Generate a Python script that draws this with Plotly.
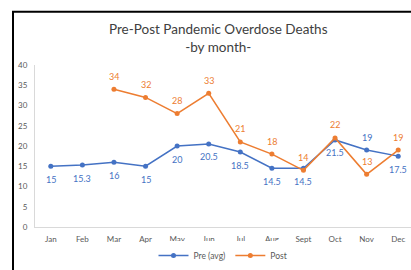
import plotly.graph_objects as go

months = ["Jan", "Feb", "Mar", "Apr", "May", "Jun", "Jul", "Aug", "Sept", "Oct", "Nov", "Dec"]
pre_avg = [15, 15.3, 16, 15, 20, 20.5, 18.5, 14.5, 14.5, 21.5, 19, 17.5]
post = [None, None, 34, 32, 28, 33, 21, 18, 14, 22, 13, 19]
pre_label_pos = ["below"] * 10 + ["above", "below"]

BLUE = "#4472C4"
ORANGE = "#ED7D31"
GRAY = "#595959"
FONT = "Lato, 'Open Sans', sans-serif"

xi = list(range(len(months)))

fig = go.Figure()
fig.add_trace(go.Scatter(x=xi, y=pre_avg, mode="lines+markers", name="Pre (avg)",
                         line=dict(color=BLUE, width=1.5), marker=dict(size=5, color=BLUE)))
fig.add_trace(go.Scatter(x=xi, y=post, mode="lines+markers", name="Post",
                         line=dict(color=ORANGE, width=1.5), marker=dict(size=5, color=ORANGE),
                         connectgaps=False))

ann = []
for i, (v, p) in enumerate(zip(pre_avg, pre_label_pos)):
    ann.append(dict(x=i, y=v, xref="x", yref="y", text=f"{v:g}", showarrow=False,
                    yshift=-13 if p == "below" else 13,
                    font=dict(size=9, color=BLUE, family=FONT)))
for i, v in enumerate(post):
    if v is None:
        continue
    ann.append(dict(x=i, y=v, xref="x", yref="y", text=f"{v:g}", showarrow=False,
                    yshift=13, font=dict(size=9, color=ORANGE, family=FONT)))

# chart title
ann.append(dict(x=(218 - 35) / 376, y=(229 - 18) / 164, xref="paper", yref="paper",
                xanchor="center", yanchor="top", showarrow=False,
                text="Pre-Post Pandemic Overdose Deaths<br>-by month-",
                font=dict(size=13.5, color="#404040", family=FONT)))

fig.update_layout(
    width=411, height=270,
    margin=dict(l=35, r=0, t=65, b=41),
    paper_bgcolor="white", plot_bgcolor="white",
    font=dict(family=FONT, color=GRAY, size=8),
    xaxis=dict(range=[-0.5, 11.405], tickmode="array", tickvals=xi, ticktext=months,
               showgrid=False, zeroline=False, showline=True, linecolor="#D9D9D9", linewidth=1,
               ticks="outside", ticklen=4, tickcolor="rgba(0,0,0,0)",
               tickfont=dict(size=8, color=GRAY)),
    yaxis=dict(range=[0, 40], tickvals=[0, 5, 10, 15, 20, 25, 30, 35, 40],
               showgrid=False, zeroline=False, showline=True, linecolor="#D9D9D9", linewidth=1,
               ticks="outside", ticklen=5, tickcolor="rgba(0,0,0,0)",
               tickfont=dict(size=8, color=GRAY)),
    legend=dict(orientation="h", x=0.5, xanchor="center", y=-(258 - 229) / 164, yanchor="middle",
                font=dict(size=8.5, color=GRAY), itemwidth=30, traceorder="normal"),
    annotations=ann,
    shapes=[
        dict(type="line", xref="paper", yref="paper", x0=(12 - 35) / 376, x1=1.01,
             y0=(229 - 11) / 164, y1=(229 - 11) / 164, line=dict(color="black", width=2)),
        dict(type="line", xref="paper", yref="paper", x0=(13 - 35) / 376, x1=(13 - 35) / 376,
             y0=(229 - 11) / 164, y1=-0.3, line=dict(color="black", width=2)),
    ],
)

fig.write_html("out.html", config={"displayModeBar": False},
               post_script="document.body.style.margin='0px';document.body.style.overflow='hidden';")
